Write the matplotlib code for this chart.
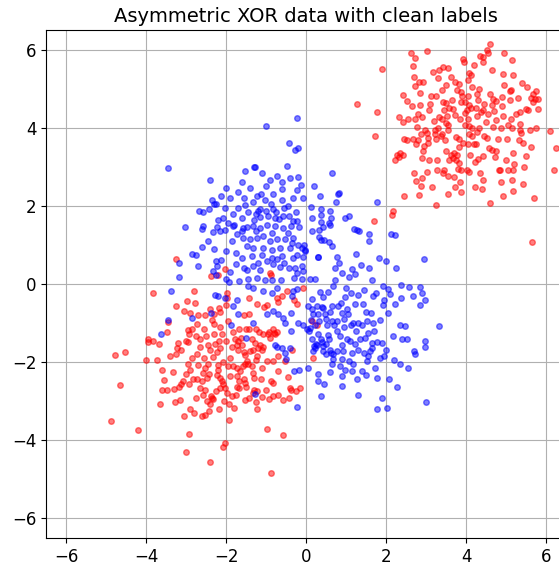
import numpy as np
import matplotlib
matplotlib.use("Agg")
import matplotlib.pyplot as plt

# class 0 (red): two blobs, upper-right and lower-left
red_ne = [
    (2.63, 5.91), (3.02, 5.96), (2.72, 5.79), (1.91, 5.50), (2.67, 5.57), (3.18, 5.43), (3.32, 5.48),
    (3.43, 5.56), (3.56, 5.52), (2.69, 5.31), (3.31, 5.26), (2.83, 5.18), (2.93, 5.16), (2.73, 5.07),
    (3.50, 5.10), (3.40, 4.97), (2.86, 4.88), (2.43, 4.83), (3.12, 4.81), (3.26, 4.81), (3.43, 4.66),
    (3.50, 4.63), (2.53, 4.69), (1.28, 4.60), (2.86, 4.58), (2.65, 4.55), (3.57, 4.51), (3.45, 4.45),
    (3.08, 4.46), (1.78, 4.39), (2.80, 4.36), (2.33, 4.28), (2.56, 4.23), (2.73, 4.22), (2.90, 4.28),
    (2.43, 4.14), (3.33, 4.28), (3.39, 4.22), (3.52, 4.29), (3.20, 4.18), (3.50, 4.12), (3.56, 4.07),
    (2.78, 4.01), (2.98, 3.95), (3.03, 3.87), (2.88, 3.83), (3.22, 3.95), (3.23, 3.85), (3.40, 3.83),
    (1.73, 3.78), (2.46, 3.70), (2.53, 3.68), (2.68, 3.71), (2.80, 3.68), (3.06, 3.73), (3.24, 3.70),
    (3.38, 3.78), (3.47, 3.68), (2.74, 3.57), (2.94, 3.54), (3.06, 3.61),
    (4.61, 6.13), (4.53, 5.98), (4.56, 5.91), (4.96, 5.90), (4.36, 5.84), (4.43, 5.81), (3.93, 5.76),
    (3.94, 5.69), (5.14, 5.73), (4.42, 5.67), (4.64, 5.47), (4.08, 5.39), (4.13, 5.35), (4.92, 5.38),
    (5.17, 5.36), (3.62, 5.29), (3.72, 5.18), (3.82, 5.13), (4.05, 5.22), (5.39, 5.14), (5.53, 5.05),
    (4.14, 5.05), (4.33, 4.99), (5.12, 4.97), (5.10, 4.93), (3.78, 4.96), (3.88, 4.91), (3.91, 4.82),
    (5.74, 4.95), (5.67, 4.85), (4.60, 4.87), (4.28, 4.85), (4.91, 4.79), (4.76, 4.69), (5.10, 4.70),
    (4.05, 4.80), (5.63, 4.75), (5.73, 4.73), (5.79, 4.74), (5.68, 4.66), (3.66, 4.72), (4.67, 4.73),
    (4.66, 4.59), (3.87, 4.65), (3.97, 4.67), (4.46, 4.60), (4.08, 4.57), (4.13, 4.51), (4.24, 4.51),
    (5.79, 4.48), (5.51, 4.48), (5.56, 4.45), (3.67, 4.48), (4.43, 4.45), (4.37, 4.39), (4.69, 4.43),
    (5.34, 4.39), (5.24, 4.36), (4.02, 4.46), (3.98, 4.38), (3.73, 4.32), (3.84, 4.23), (4.27, 4.29),
    (4.93, 4.31), (4.56, 4.36), (4.04, 4.21), (5.12, 4.21), (5.35, 4.10), (3.98, 4.08), (4.08, 4.04),
    (4.68, 4.02), (4.87, 3.98), (5.05, 4.07), (5.14, 4.00), (5.36, 3.95), (5.38, 3.87), (5.60, 3.93),
    (5.74, 3.98), (6.09, 3.92), (4.14, 4.00), (4.32, 3.98), (4.28, 3.90), (3.75, 3.76), (3.83, 3.72),
    (4.07, 3.83), (4.14, 3.78), (4.45, 3.80), (4.52, 3.73), (4.79, 3.70), (5.03, 3.71), (5.33, 3.68),
    (5.43, 3.61), (3.93, 3.60), (4.06, 3.57), (4.21, 3.59), (4.26, 3.57), (4.58, 3.47), (3.83, 3.50),
    (5.63, 3.51), (6.24, 3.47),
    (2.23, 3.18), (2.28, 3.29), (2.35, 3.34), (2.43, 3.29), (2.33, 3.25), (2.89, 3.23), (3.08, 3.18),
    (3.27, 3.18), (2.93, 3.41), (3.50, 3.40), (3.57, 3.18), (2.70, 2.84), (3.02, 2.86), (2.91, 2.72),
    (2.76, 2.63), (3.27, 2.93), (3.45, 2.93), (3.42, 2.84), (3.56, 2.76), (2.88, 2.50), (3.16, 2.47),
    (2.83, 2.27), (2.44, 2.24), (3.55, 2.31), (3.25, 2.03), (2.17, 1.87), (2.15, 1.76), (1.71, 1.62),
    (3.62, 3.31), (3.70, 3.34), (3.78, 3.29), (3.68, 3.23), (3.76, 3.18), (3.83, 3.10), (3.81, 2.95),
    (3.87, 2.91), (4.10, 3.29), (4.23, 3.13), (4.31, 3.20), (4.43, 3.27), (4.66, 3.44), (4.72, 3.25),
    (4.74, 3.40), (5.18, 3.36), (5.49, 3.27), (5.01, 3.18), (5.19, 3.07), (5.44, 3.00), (6.20, 2.91),
    (4.03, 2.93), (4.08, 2.86), (4.35, 2.84), (4.83, 2.91), (4.85, 2.93), (5.06, 2.91), (5.18, 2.91),
    (3.70, 2.73), (3.84, 2.62), (4.43, 2.65), (4.88, 2.60), (5.16, 2.65), (5.43, 2.56), (4.40, 2.43),
    (3.73, 2.49), (3.88, 2.36), (4.22, 2.49), (5.18, 2.38), (4.92, 2.26), (5.71, 2.19), (4.60, 2.08),
    (5.65, 1.08), (4.30, 4.70), (4.90, 4.55), (4.50, 4.15), (4.75, 4.20), (3.30, 4.00), (3.10, 4.60),
    (4.95, 5.10), (5.30, 4.75), (4.20, 5.60), (3.55, 3.95),
]

red_sw = [
    (-3.82, -0.23), (-3.25, 0.64), (-2.97, -0.44), (-2.80, -0.17), (-2.77, -0.49), (-3.24, -0.56),
    (-3.06, -0.70), (-2.90, -0.75), (-2.72, -1.03), (-2.70, -0.79), (-2.53, -0.79), (-2.41, -0.65),
    (-2.31, -0.78), (-2.36, -0.93), (-2.31, -1.02), (-3.45, -0.97), (-3.48, -1.22), (-2.96, -1.17),
    (-2.86, -1.15), (-2.92, -1.28), (-3.01, -1.45), (-2.96, -1.48), (-3.19, -1.50), (-3.94, -1.42),
    (-3.82, -1.46), (-3.96, -1.48), (-3.68, -1.53), (-3.23, -1.63), (-3.12, -1.70), (-3.25, -1.79),
    (-4.78, -1.81), (-4.53, -1.73), (-4.01, -1.95), (-3.73, -1.95), (-3.59, -2.19), (-3.33, -2.25),
    (-4.65, -2.59), (-3.60, -2.72), (-3.48, -2.70), (-3.31, -2.69), (-3.18, -2.64), (-3.13, -2.55),
    (-3.07, -2.49), (-2.93, -2.55), (-2.82, -2.43), (-3.66, -3.06), (-3.28, -3.01), (-3.15, -2.97),
    (-2.74, -2.92), (-4.88, -3.50), (-4.19, -3.74), (-3.06, -3.39), (-2.91, -3.21), (-2.81, -3.31),
    (-2.59, -3.39), (-2.53, -3.34), (-2.43, -3.25), (-2.93, -3.84), (-2.99, -4.31), (-2.39, -4.56),
    (-2.08, -4.16), (-2.03, -4.07), (-1.93, -3.47), (-1.80, -3.17), (-2.18, -3.21), (-2.37, -2.87),
    (-2.36, -2.91), (-2.33, -2.95), (-2.48, -3.00), (-2.57, -2.83), (-2.53, -2.70), (-2.73, -2.44),
    (-2.60, -2.47), (-2.47, -2.40), (-2.42, -2.30), (-2.58, -2.27), (-2.53, -2.14), (-2.94, -2.06),
    (-2.90, -2.19), (-2.69, -2.08), (-2.44, -2.06), (-2.20, -2.08), (-2.07, -1.99), (-2.72, -1.79),
    (-2.56, -1.89), (-2.33, -1.86), (-2.23, -1.73), (-2.14, -1.65), (-2.39, -1.70), (-2.76, -1.34),
    (-2.64, -1.41), (-2.49, -1.34), (-2.31, -1.29), (-2.10, -1.29), (-2.28, -1.53), (-2.17, -1.45),
    (-2.16, -0.71), (-2.18, -0.61), (-2.01, -0.54), (-1.97, -0.35), (-1.98, -0.23), (-2.38, 0.20),
    (-2.03, 0.38), (-2.19, 0.24), (-1.78, -1.40), (-1.69, -1.46), (-1.73, -1.55), (-1.63, -1.38),
    (-1.51, -1.14), (-1.42, -1.14), (-1.26, -1.16), (-1.18, -1.22), (-1.83, -1.22), (-1.68, -1.14),
    (-1.54, -0.79), (-1.43, -0.76), (-1.23, -0.51), (-1.42, -0.37), (-1.04, -0.59), (-0.98, -0.55),
    (-0.73, -0.35), (-0.71, -0.46), (-0.83, -1.14), (-0.92, -1.22), (-0.79, -1.25), (-0.90, -1.38),
    (-1.36, -1.42), (-1.28, -1.50), (-1.19, -1.63), (-1.15, -1.56), (-1.11, -1.68), (-1.07, -1.62),
    (-1.32, -1.68), (-1.70, -1.69), (-1.56, -1.74), (-1.53, -1.82), (-1.40, -1.72), (-1.23, -1.85),
    (-1.25, -1.95), (-1.48, -1.97), (-1.94, -2.10), (-1.83, -2.10), (-1.73, -2.14), (-1.65, -2.23),
    (-1.57, -2.10), (-1.53, -2.06), (-1.44, -2.04), (-1.73, -2.36), (-1.68, -2.48), (-1.55, -2.44),
    (-1.53, -2.53), (-1.33, -2.28), (-1.30, -2.40), (-1.13, -2.42), (-1.72, -2.63), (-1.68, -2.67),
    (-1.50, -2.64), (-1.29, -2.70), (-1.33, -2.78), (-1.22, -2.74), (-1.53, -2.96), (-1.43, -2.93),
    (-1.25, -3.02), (-1.23, -3.19), (-1.10, -2.89), (-0.92, -2.95), (-0.83, -2.86), (-0.71, -2.84),
    (-0.58, -2.98), (-0.98, -1.96), (-0.82, -1.96), (-0.69, -1.85), (-0.53, -1.97), (-0.71, -2.23),
    (-0.88, -2.47), (-0.82, -2.53), (-1.01, -2.70), (-0.46, -2.38), (-0.40, -2.66), (-0.38, -2.70),
    (-0.26, -2.74), (-0.43, -2.91), (-0.98, -3.72), (-0.58, -3.87), (-0.88, -4.83), (-1.93, -3.08),
    (-2.05, -3.00), (-2.40, -3.08), (-2.23, -2.32), (-2.15, -2.40), (-2.11, -2.49), (-2.07, -2.57),
    (-2.15, -2.66), (-1.98, -2.78), (-1.86, -2.87), (-2.03, -2.66), (-1.07, -1.29), (-0.94, -1.29),
    (-0.78, -1.27), (-0.73, -1.22), (-0.61, -0.31), (-0.47, -0.18), (-0.30, -0.42), (-0.23, -0.52),
    (-0.88, 0.24), (-0.90, 0.29), (-0.07, -0.10), (0.14, -0.95), (0.27, -1.04), (-0.36, -1.68),
    (0.18, -1.89), (-0.15, -2.66),
    (-2.65, -1.60), (-2.45, -1.55), (-2.85, -1.90), (-3.00, -2.30), (-2.20, -2.20), (-1.90, -1.90),
    (-1.85, -1.60), (-1.60, -1.55), (-2.00, -1.45), (-2.55, -1.15), (-2.15, -1.10), (-1.95, -0.95),
    (-2.65, -2.65), (-1.90, -2.35), (-1.75, -2.85), (-2.25, -2.75), (-3.40, -1.85), (-3.55, -2.45),
    (-1.35, -2.10), (-1.10, -2.15),
]

# class 1 (blue): upper-left and lower-right blobs
blue_nw = [
    (-3.46, 2.98), (-1.52, 2.90), (-2.40, 2.65), (-2.13, 2.26), (-2.34, 2.14), (-2.31, 2.05),
    (-2.24, 2.04), (-2.68, 1.87), (-2.57, 1.85), (-2.42, 1.92), (-2.03, 1.94), (-1.53, 2.01),
    (-1.83, 1.79), (-2.08, 1.69), (-3.03, 1.46), (-2.57, 1.49), (-2.60, 1.41), (-2.23, 1.45),
    (-1.81, 1.52), (-1.83, 1.48), (-1.58, 1.44), (-1.48, 1.45),
    (-0.23, 4.24), (-1.01, 4.05), (-0.42, 3.60), (-0.27, 3.42), (-0.20, 3.47), (-1.31, 2.99),
    (-1.28, 2.99), (-0.48, 3.03), (0.65, 2.83), (-0.73, 2.76), (-0.41, 2.72), (-0.20, 2.73),
    (-0.12, 2.54), (-0.60, 2.42), (-0.23, 2.40), (0.82, 2.33), (0.81, 2.30), (-1.23, 2.25),
    (-1.12, 2.30), (-0.82, 2.31), (-0.33, 2.19), (-0.08, 2.20), (0.35, 2.26), (-1.03, 2.14),
    (-0.88, 2.06), (-0.59, 2.14), (0.76, 2.09), (-1.32, 2.09), (-1.21, 1.88), (-1.15, 1.91),
    (-1.26, 1.80), (-1.00, 1.88), (-0.82, 1.93), (-0.74, 1.84), (-0.55, 1.94), (-0.42, 1.73),
    (-0.32, 1.62), (0.13, 1.96), (0.38, 1.91), (0.60, 1.87), (0.14, 1.68), (0.37, 1.77),
    (0.63, 1.68), (0.98, 1.68), (1.08, 1.75), (-1.30, 1.65), (-1.15, 1.72), (-0.78, 1.68),
    (-0.67, 1.67), (-0.57, 1.73), (-0.23, 1.60), (0.37, 1.59), (0.58, 1.55), (1.78, 2.09),
    (-2.33, 1.33), (-2.15, 1.35), (-2.03, 1.38), (-2.44, 1.11), (-2.31, 0.89), (-2.84, 0.76),
    (-2.75, 0.75), (-3.18, 0.53), (-3.17, 0.17), (-2.25, 0.58), (-2.13, 0.62), (-2.23, 0.46),
    (-2.33, 0.33), (-2.25, 0.23), (-2.00, 0.12), (-1.93, 0.05), (-1.73, 1.27), (-1.61, 1.35),
    (-1.33, 1.48), (-1.15, 1.44), (-0.98, 1.52), (-0.77, 1.48), (-0.57, 1.44), (-0.37, 1.48),
    (-1.57, 1.18), (-1.40, 1.14), (-1.23, 1.18), (-1.07, 1.22), (-0.90, 1.11), (-0.73, 1.14),
    (-0.53, 1.16), (-0.33, 1.18), (-1.48, 0.97), (-1.32, 0.92), (-1.07, 0.92), (-0.86, 0.88),
    (-0.65, 0.92), (-0.40, 0.91), (-0.19, 1.01), (-1.61, 0.67), (-1.36, 0.71), (-1.11, 0.75),
    (-0.86, 0.67), (-0.73, 0.63), (-0.61, 0.71), (-0.32, 0.67), (-1.76, 0.52), (-1.55, 0.41),
    (-1.48, 0.37), (-1.32, 0.46), (-1.15, 0.37), (-0.98, 0.58), (-0.83, 0.52), (-0.65, 0.43),
    (-0.43, 0.41), (-1.67, 0.07), (-1.44, 0.12), (-1.23, 0.16), (-1.03, 0.10), (-0.86, 0.09),
    (-0.63, 0.09), (-0.30, 0.16), (-0.22, 0.29), (-1.44, -0.06), (-1.32, -0.10), (-1.07, -0.18),
    (-0.86, -0.23), (-0.72, -0.10), (-0.32, -0.18), (-0.23, -0.14), (-3.38, -0.17),
    (-1.90, 2.20), (-1.70, 2.35), (-1.55, 2.20), (-1.40, 2.45), (-1.00, 2.50), (-0.90, 2.65),
    (-0.60, 2.60), (-1.70, 1.95), (-1.45, 1.85), (-1.60, 1.70), (-0.95, 1.75), (-0.45, 2.00),
    (-0.25, 1.85), (-2.20, 1.65), (-1.95, 1.55), (-1.25, 1.35), (-0.85, 1.30), (-0.45, 1.30),
    (-1.85, 1.10), (-2.00, 0.85), (-1.75, 0.80), (-1.20, 0.55), (-0.55, 0.55), (-1.90, 0.30),
    (-2.60, 0.95), (-2.70, 0.45), (-1.60, 2.60), (-1.10, 2.85), (-2.00, 2.45), (0.20, 2.50),
]

blue_se = [
    (-2.27, -0.27), (-2.21, -0.31), (-1.82, -0.57), (-2.03, -0.37), (-1.73, -0.40), (-1.69, -0.78),
    (-1.32, -0.99), (-0.98, -0.78), (-0.83, -0.70), (-0.69, -0.78), (-0.57, -0.87), (-0.38, -0.74),
    (-0.53, -0.99), (-0.37, -1.19), (-2.86, -0.87), (-3.44, -0.93), (-3.63, -1.27), (-2.38, -0.74),
    (-1.88, -1.05), (-1.51, -1.38), (-0.78, -1.56), (-0.73, -1.62), (-0.61, -1.63), (-0.53, -1.76),
    (-0.40, -1.65), (-0.50, -1.93), (-0.30, -2.23), (-0.17, -2.19), (-1.28, -2.81), (-0.23, -3.15),
    (-0.18, 1.46), (0.14, 1.35), (0.33, 1.37), (0.42, 1.46), (0.60, 1.52), (1.21, 1.41), (1.27, 1.37),
    (1.33, 1.35), (1.58, 1.29), (1.58, 1.11), (2.12, 1.29), (2.23, 1.25), (0.33, 1.21), (0.37, 1.12),
    (0.46, 1.12), (0.58, 1.08), (0.64, 0.97), (-0.04, 0.99), (-0.03, 0.88), (-0.36, 1.05),
    (0.29, 0.70), (0.31, 0.70), (0.77, 0.70), (0.83, 0.54), (0.73, 0.40), (0.89, 0.27), (1.16, 0.39),
    (1.23, 0.26), (1.07, 0.17), (1.38, 0.48), (1.58, 0.41), (1.83, 0.67), (2.00, 0.60), (2.25, 0.41),
    (2.95, 0.64), (1.64, 0.10), (0.73, 0.10), (0.68, -0.06), (0.56, -0.21), (0.43, -0.33),
    (0.10, 0.13), (0.23, 0.13), (-0.11, 0.12), (1.92, -0.06), (2.06, -0.14), (2.10, -0.25),
    (2.38, -0.03), (2.58, -0.07), (2.38, -0.35), (2.23, -0.51), (2.85, -0.07), (2.90, -0.24),
    (2.86, -0.53), (2.98, -0.40), (2.68, -0.31), (1.75, -0.24), (1.68, -0.31), (1.92, -0.55),
    (2.06, -0.74), (1.85, -0.93), (1.67, -1.01), (1.53, -0.95), (1.13, -0.23), (0.98, -0.33),
    (1.23, -0.51), (1.31, -0.29), (1.43, -0.50), (1.50, -0.72), (1.62, -0.74), (1.31, -1.00),
    (1.39, -1.04), (1.18, -1.01), (1.12, -1.06), (0.14, -0.39), (0.27, -0.56), (0.41, -0.58),
    (0.43, -0.61), (0.17, -0.78), (0.31, -0.78), (0.48, -0.78), (0.60, -0.71), (0.81, -0.56),
    (0.64, -0.56), (0.88, -0.48), (1.02, -0.65), (1.06, -0.78), (0.96, -0.89), (0.89, -0.74),
    (0.77, -0.95), (0.64, -0.95), (0.52, -1.04), (0.33, -0.95), (0.10, -1.12), (0.31, -1.27),
    (0.37, -1.42), (0.27, -1.55), (0.23, -1.65), (0.18, -1.72), (2.35, -1.04), (2.48, -1.08),
    (2.39, -1.42), (2.52, -1.42), (2.70, -1.72), (2.73, -1.79), (2.98, -1.45), (2.98, -1.62),
    (3.33, -1.08), (2.18, -1.34), (0.77, -1.19), (0.85, -1.33), (1.02, -1.42), (1.23, -1.53),
    (1.10, -1.46), (1.48, -1.38), (1.56, -1.25), (1.64, -1.50), (1.78, -1.48), (1.90, -1.50),
    (1.64, -1.63), (1.56, -1.85), (1.60, -1.72), (1.45, -1.76), (1.31, -1.68), (1.14, -1.76),
    (0.93, -1.72), (0.77, -1.72), (0.68, -1.80), (0.60, -1.70), (0.50, -1.79), (0.43, -1.72),
    (0.68, -1.93), (0.89, -1.93), (1.08, -1.97), (0.64, -2.06), (0.85, -2.10), (0.97, -2.20),
    (1.18, -2.06), (1.14, -2.23), (1.41, -2.23), (1.50, -2.33), (1.72, -2.16), (1.52, -1.98),
    (1.85, -1.89), (1.96, -1.85), (0.06, -2.16), (0.31, -2.31), (0.29, -2.47), (0.46, -2.57),
    (0.89, -2.36), (0.89, -2.61), (1.27, -2.44), (1.77, -2.40), (2.08, -2.44), (2.28, -2.64),
    (2.35, -2.04), (2.56, -2.16), (0.38, -2.87), (1.29, -2.84), (1.89, -2.91), (2.99, -3.03),
    (1.78, -3.19), (2.02, -3.17), (-0.23, 0.75), (-0.11, 0.92), (-0.03, 0.84), (-0.07, 0.69),
    (-0.28, 0.41), (-0.11, 0.46), (-0.07, 0.33), (-0.36, -0.31), (-0.19, -1.00), (-0.07, -1.04),
    (0.06, -0.57), (0.14, -0.65), (0.23, -1.04), (0.13, -0.91), (0.02, -1.16), (0.08, -1.21),
    (0.14, -1.40), (0.20, -1.59), (0.25, -1.53), (0.43, -1.59), (0.39, -1.48), (0.50, -1.53),
    (0.58, -1.42), (0.63, -1.76), (1.24, 0.78),
    (0.50, -0.90), (0.70, -1.05), (0.95, -1.10), (1.25, -1.20), (0.55, -1.30), (1.35, -1.40),
    (1.70, -1.20), (0.90, -1.55), (0.35, -0.20), (1.00, -0.10), (1.45, -0.15), (2.00, -1.70),
    (2.20, -1.95), (1.95, -0.40), (0.60, -2.25),
]

red = np.array(red_ne + red_sw)
blue = np.array(blue_nw + blue_se)

fig = plt.figure(figsize=(5.59, 5.66), dpi=100)
ax = fig.add_axes([46 / 559, 28 / 566, 520 / 559, 508 / 566])

ax.scatter(red[:, 0], red[:, 1], c="red", s=16, alpha=0.5)
ax.scatter(blue[:, 0], blue[:, 1], c="blue", s=16, alpha=0.5)

ax.set_xlim(-6.5, 6.5)
ax.set_ylim(-6.5, 6.5)
ax.set_xticks(np.arange(-6, 7, 2))
ax.set_yticks(np.arange(-6, 7, 2))
ax.tick_params(labelsize=12)
ax.grid(True)
ax.set_axisbelow(True)
ax.set_title("Asymmetric XOR data with clean labels", fontsize=14)

fig.savefig("out.png", dpi=100)
